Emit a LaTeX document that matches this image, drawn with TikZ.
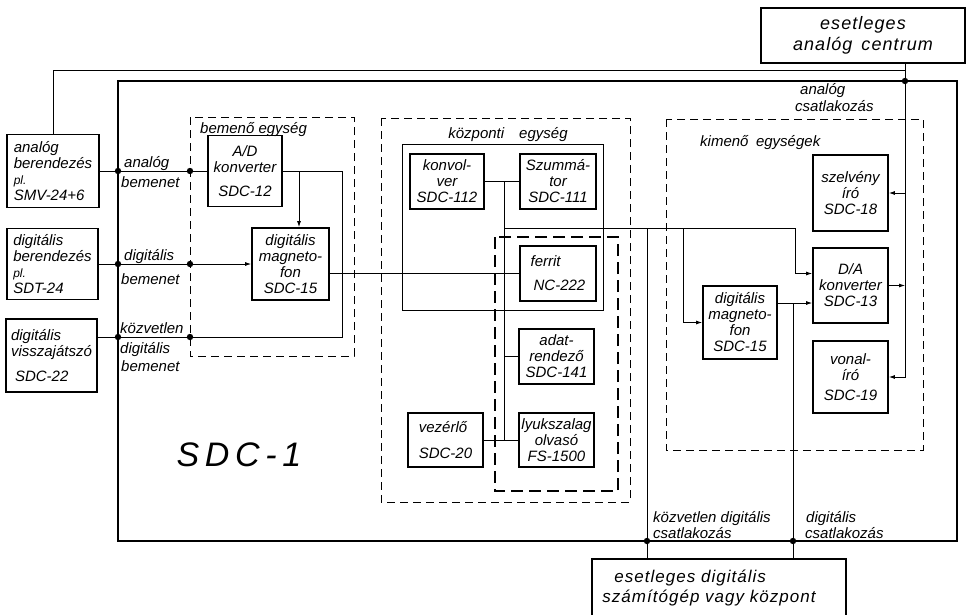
\documentclass[tikz,border=0pt]{standalone}
\usepackage{fontspec}
\setmainfont{Liberation Sans}
\newfontfamily\widefont[LetterSpace=6]{Liberation Sans}
\usetikzlibrary{arrows.meta}
\newcommand{\plabbr}{{\fontsize{12}{12}\selectfont pl.}}

\begin{document}
\begin{tikzpicture}[x=1pt, y=-1pt, >={Latex[length=6pt,width=4pt]},
  font=\itshape\fontsize{15}{16}\selectfont,
  box/.style={draw, line width=1.8pt, align=center, inner sep=1pt},
  frame/.style={line width=0.8pt, dash pattern=on 8pt off 5pt},
  wire/.style={line width=0.8pt},
  lbl/.style={inner sep=0pt, anchor=base west}]
\useasboundingbox (0,0) rectangle (966,614);

% main unit
\coordinate (sdcNW) at (118,81);
\coordinate (sdcSE) at (957,541);
\draw[line width=2.2pt] (sdcNW) rectangle (sdcSE);
\node[inner sep=0pt, font=\itshape\fontsize{34}{34}\selectfont] (sdc) at (239,455) {S\,D\,C\,-\,1};

% unit frames
\coordinate (beNW) at (190,117);
\coordinate (beSE) at (354,356);
\draw[frame] (beNW) rectangle (beSE);
\draw[frame] (381,118) rectangle (630,502);
\draw[line width=1.3pt, dash pattern=on 12pt off 6pt] (495,237) rectangle (618,491);
\draw[wire] (402,144) rectangle (603,310);
\draw[frame] (666,119) rectangle (923,450);
\node[lbl] (lbe) at (200,133) {bemenő egység};
\node[lbl, anchor=base] (lkp) at (508,138) {központi\quad egység};
\node[lbl] (lki) at (700,146) {kimenő\enspace egységek};

% outside devices
\node[box, align=left, minimum width=92pt, minimum height=73pt] (an) at (53,171) {analóg\\berendezés\\\plabbr\\SMV-24+6};
\node[box, align=left, minimum width=91pt, minimum height=71pt] (dg) at (52.5,264) {digitális\\berendezés\\\plabbr\\SDT-24};
\node[box, align=left, minimum width=91pt, minimum height=73pt] (vj) at (51.5,355.5) {digitális\\visszajátszó\\[9pt]\hspace*{4pt}SDC-22};
\node[box, minimum width=204pt, minimum height=55pt, font=\widefont\itshape\fontsize{18}{21}\selectfont] (ac) at (863,35.5) {esetleges\\analóg\enspace centrum};
\node[box, align=left, minimum width=254pt, minimum height=58pt, font=\widefont\itshape\fontsize{17}{20}\selectfont] (dc) at (719,588) {\hspace*{12pt}esetleges digitális\\számítógép vagy központ\hspace*{20pt}};

% input unit
\node[box, minimum width=74pt, minimum height=71pt] (ad) at (245,171) {A/D\\konverter\\[8pt]SDC-12};
\node[box, minimum width=77pt, minimum height=72pt] (mga) at (290.5,264) {digitális\\magneto-\\fon\\SDC-15};

% central unit
\node[box, minimum width=74pt, minimum height=55pt] (kv) at (447,181.5) {konvol-\\ver\\SDC-112};
\node[box, minimum width=76pt, minimum height=55pt] (sz) at (558,181.5) {Szummá-\\tor\\SDC-111};
\node[box, align=left, minimum width=76pt, minimum height=55pt] (fe) at (558,273.5) {ferrit\\[8pt]\hspace*{3pt}NC-222};
\node[box, minimum width=75pt, minimum height=55pt] (ar) at (556.5,356.5) {adat-\\rendező\\SDC-141};
\node[box, minimum width=75pt, minimum height=54pt] (ly) at (556.5,440) {lyukszalag\\olvasó\\FS-1500};
\node[box, align=left, minimum width=75pt, minimum height=54pt] (vz) at (445.5,440) {vezérlő\\[10pt]SDC-20};

% output units
\node[box, minimum width=74pt, minimum height=73pt] (mgb) at (740,322.5) {digitális\\magneto-\\fon\\SDC-15};
\node[box, minimum width=75pt, minimum height=76pt] (sv) at (850.5,193) {szelvény\\író\\SDC-18};
\node[box, minimum width=75pt, minimum height=75pt] (da) at (850.5,285.5) {D/A\\konverter\\SDC-13};
\node[box, minimum width=75pt, minimum height=72pt] (vo) at (850.5,377) {vonal-\\író\\[4pt]SDC-19};

% inputs
\coordinate (ja) at (an.east -| sdcNW);
\coordinate (jb) at (an.east -| beNW);
\coordinate (jc) at (dg.east -| sdcNW);
\coordinate (jd) at (dg.east -| beNW);
\coordinate (kz) at (342,337);
\coordinate (je) at (kz -| sdcNW);
\coordinate (jf) at (kz -| beNW);
\coordinate (adj) at (299,171);
\draw[wire] (an.east) -- (ad.west);
\draw[wire,->] (dg.east) -- (mga.west);
\draw[wire] (ad.east) -| (kz) -- (vj.east |- kz);
\draw[wire,->] (adj) -- (adj |- mga.north);
\node[lbl] (lan) at (124,167) {analóg};
\node[lbl] (lab) at (121,187) {bemenet};
\node[lbl] (ldg) at (124,260) {digitális};
\node[lbl] (ldb) at (121,284) {bemenet};
\node[lbl] (lkz) at (120,333) {közvetlen};
\node[lbl] (lkd) at (120,353) {digitális};
\node[lbl] (lkb) at (121,371) {bemenet};

% central connections
\coordinate (bus) at (504,181.5);
\draw[wire] (kv.east) -- (sz.west);
\draw[wire] (bus) -- (bus |- ly.west);
\draw[wire] (vz.east) -- (ly.west);
\draw[wire] (ar.west -| bus) -- (ar.west);
\draw[wire] (mga.east |- fe.west) -- (fe.west);

% output connections
\coordinate (obus) at (795,228);
\coordinate (kdj) at (647,228);
\coordinate (mgj) at (683,228);
\coordinate (dcj) at (793,303);
\coordinate (jg) at (kdj |- sdcSE);
\coordinate (jh) at (dcj |- sdcSE);
\draw[wire,->] (bus |- obus) -- (obus) |- ([yshift=12pt]da.west);
\draw[wire,->] (mgj) |- (mgb.west);
\draw[wire,->] (mgb.east |- dcj) -- (dcj -| da.west);
\draw[wire] (kdj) -- (kdj |- dc.north);
\draw[wire] (dcj) -- (dcj |- dc.north);
\node[lbl] (lkc) at (653,522) {közvetlen digitális};
\node[lbl] (lkc2) at (653,538) {csatlakozás};
\node[lbl] (ldc) at (806,522) {digitális};
\node[lbl] (ldc2) at (805,538) {csatlakozás};

% analog connection
\coordinate (abus) at (905,81);
\coordinate (atop) at (905,70);
\draw[wire] (an.north) |- (atop);
\draw[wire,->] (ac.south -| abus) |- (vo.east);
\draw[wire,->] (sv.east -| abus) -- (sv.east);
\draw[wire,->] (da.east) -- (da.east -| abus);
\node[lbl] (lac) at (800,94) {analóg};
\node[lbl] (lac2) at (795,111) {csatlakozás};

\foreach \p in {ja,jb,jc,jd,je,jf,abus,jg,jh}
  \fill (\p) circle (3.2pt);
\end{tikzpicture}
\end{document}
